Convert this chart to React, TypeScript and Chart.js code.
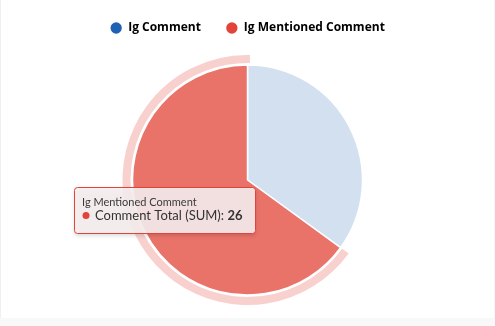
import React, { useEffect, useRef } from 'react';
import { Chart, registerables } from 'chart.js';

Chart.register(...registerables);

const labels = ['Ig Comment', 'Ig Mentioned Comment'];
const values = [14, 26];
const legendColors = ['#1f62b4', '#e2433a'];
const sliceColors = ['rgba(31,98,180,0.2)', 'rgba(226,67,55,0.75)'];
const haloColor = 'rgba(226,67,55,0.25)';
const measureName = 'Comment Total (SUM)';
const activeIndex = 1;

const haloPlugin = {
  id: 'halo',
  beforeDatasetsDraw(chart: any) {
    const meta = chart.getDatasetMeta(0);
    const arc = meta.data[activeIndex];
    if (!arc) return;
    const { x, y, startAngle, endAngle, outerRadius } = arc.getProps(['x', 'y', 'startAngle', 'endAngle', 'outerRadius'], true);
    const ctx = chart.ctx;
    ctx.save();
    ctx.beginPath();
    ctx.arc(x, y, outerRadius + 10, startAngle, endAngle + 0.02);
    ctx.arc(x, y, outerRadius + 2, endAngle + 0.02, startAngle, true);
    ctx.closePath();
    ctx.fillStyle = haloColor;
    ctx.fill();
    ctx.restore();
  },
};

const tooltipPlugin = {
  id: 'fixedTooltip',
  afterDraw(chart: any) {
    const ctx = chart.ctx;
    const bx = 73.5, by = 187.5, bw = 181, bh = 46;
    ctx.save();
    ctx.shadowColor = 'rgba(0,0,0,0.18)';
    ctx.shadowBlur = 4;
    ctx.shadowOffsetY = 2;
    ctx.beginPath();
    ctx.roundRect(bx, by, bw, bh, 3);
    ctx.fillStyle = 'rgba(246,238,238,0.9)';
    ctx.fill();
    ctx.shadowColor = 'transparent';
    ctx.lineWidth = 1;
    ctx.strokeStyle = legendColors[activeIndex];
    ctx.stroke();

    ctx.textBaseline = 'alphabetic';
    ctx.textAlign = 'left';
    ctx.fillStyle = '#3a3a3a';
    ctx.font = '11px Lato';
    ctx.fillText(labels[activeIndex], 81, 205.5);

    ctx.beginPath();
    ctx.arc(85, 215.5, 3.5, 0, Math.PI * 2);
    ctx.fillStyle = legendColors[activeIndex];
    ctx.fill();

    ctx.fillStyle = '#333';
    ctx.font = '13px Lato';
    const t = measureName + ': ';
    ctx.fillText(t, 94, 220);
    const w = ctx.measureText(t).width;
    ctx.font = 'bold 13px Lato';
    ctx.fillText(String(values[activeIndex]), 94 + w, 220);
    ctx.restore();
  },
};

export default function App() {
  const ref = useRef<HTMLCanvasElement>(null);
  useEffect(() => {
    if (!ref.current) return;
    const chart = new Chart(ref.current, {
      type: 'pie',
      data: {
        labels,
        datasets: [
          {
            data: values,
            backgroundColor: sliceColors,
            borderColor: '#ffffff',
            borderWidth: 1.5,
            radius: 115,
          },
        ],
      },
      options: {
        animation: false,
        responsive: true,
        maintainAspectRatio: false,
        events: [],
        layout: { padding: { top: -3, bottom: 2 } },
        plugins: {
          tooltip: { enabled: false },
          legend: {
            position: 'top',
            labels: {
              usePointStyle: true,
              pointStyle: 'circle',
              boxWidth: 12,
              boxHeight: 8,
              padding: 25,
              color: '#333',
              font: { family: 'Open Sans', size: 12, weight: 'bold' },
              generateLabels: () =>
                labels.map((l, i) => ({
                  text: l,
                  fillStyle: legendColors[i],
                  strokeStyle: legendColors[i],
                  lineWidth: 0,
                  pointStyle: 'circle',
                  hidden: false,
                  index: i,
                  datasetIndex: 0,
                })),
            },
          },
        },
      },
      plugins: [haloPlugin, tooltipPlugin],
    });
    return () => chart.destroy();
  }, []);
  return (
    <div style={{ position: 'fixed', inset: 0, background: '#f8f8f8' }}>
      <div style={{ position: 'absolute', left: 0, top: 0, width: 494, height: 318, background: '#fff', borderLeft: '1px solid #f0f0f0', boxSizing: 'border-box' }}>
        <canvas ref={ref} />
      </div>
    </div>
  );
}
